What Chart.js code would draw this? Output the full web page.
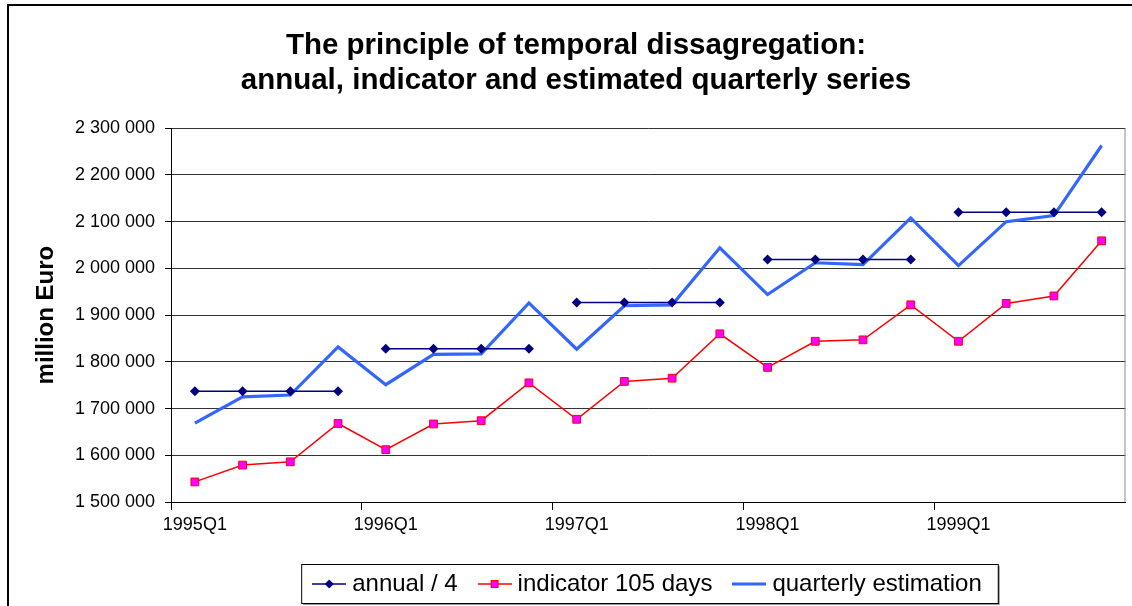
<!DOCTYPE html>
<html>
<head>
<meta charset="utf-8">
<script src="https://cdn.jsdelivr.net/npm/chart.js@4"></script>
<style>
  html, body { margin: 0; padding: 0; background: #fff; }
  #wrap { width: 1132px; height: 606px; }
</style>
</head>
<body>
<div id="wrap"><canvas id="chart" width="1132" height="606"></canvas></div>
<script>
const quarters = [
    '1995Q1', '1995Q2', '1995Q3', '1995Q4',
    '1996Q1', '1996Q2', '1996Q3', '1996Q4',
    '1997Q1', '1997Q2', '1997Q3', '1997Q4',
    '1998Q1', '1998Q2', '1998Q3', '1998Q4',
    '1999Q1', '1999Q2', '1999Q3', '1999Q4',
];

// annual totals divided by 4, repeated for each quarter of the year
const annualQuarter = [
    1737000, 1737000, 1737000, 1737000,
    1828000, 1828000, 1828000, 1828000,
    1927000, 1927000, 1927000, 1927000,
    2019000, 2019000, 2019000, 2019000,
    2120000, 2120000, 2120000, 2120000,
];

const indicator105 = [
    1543000, 1579000, 1586000, 1668000,
    1612000, 1667000, 1674000, 1755000,
    1677000, 1758000, 1765000, 1860000,
    1788000, 1844000, 1847000, 1922000,
    1844000, 1925000, 1941000, 2059000,
];

const quarterlyEstimation = [
    1669000, 1725000, 1729000, 1832000,
    1751000, 1816000, 1817000, 1926000,
    1827000, 1920000, 1922000, 2044000,
    1944000, 2012000, 2008000, 2108000,
    2006000, 2100000, 2113000, 2263000,
];

const seriesNames = ['annual / 4', 'indicator 105 days', 'quarterly estimation'];
const yTicks = { min: 1500000, max: 2300000, step: 100000 };

const FONT = "'Liberation Sans', Arial, sans-serif";
const NAVY = '#000080';
const RED = '#ff0000';
const MAGENTA = '#ff00ff';
const BLUE = '#3366ff';

function fmt(v) {
    return String(v).replace(/\B(?=(\d{3})+(?!\d))/g, ' ');
}

// legend icons: a short line with the marker in the middle
function makeIcon(color, width, marker) {
    const c = document.createElement('canvas');
    c.width = 34;
    c.height = 14;
    const g = c.getContext('2d');
    g.strokeStyle = color;
    g.lineWidth = width;
    g.beginPath();
    g.moveTo(0, 7);
    g.lineTo(34, 7);
    g.stroke();
    if (marker == 'diamond') {
        g.fillStyle = NAVY;
        g.beginPath();
        g.moveTo(17, 2.5);
        g.lineTo(21.5, 7);
        g.lineTo(17, 11.5);
        g.lineTo(12.5, 7);
        g.closePath();
        g.fill();
    } else if (marker == 'square') {
        g.fillStyle = MAGENTA;
        g.strokeStyle = RED;
        g.lineWidth = 1;
        g.fillRect(13, 3, 8, 8);
        g.strokeRect(13.5, 3.5, 7, 7);
    }
    return c;
}
const legendIcons = [
    makeIcon(NAVY, 1.5, 'diamond'),
    makeIcon(RED, 1.5, 'square'),
    makeIcon(BLUE, 3, null),
];

const LEGEND_SHIFT = 84;
const TITLE_SHIFT = 10;

const framePlugin = {
    id: 'frame',
    beforeDraw(chart) {
        const g = chart.ctx;
        g.save();
        g.fillStyle = '#fff';
        g.fillRect(0, 0, chart.width, chart.height);
        g.restore();
    },
    afterLayout(chart) {
        // center the legend under the plot area instead of the canvas
        const lg = chart.legend;
        lg.left += LEGEND_SHIFT;
        lg.right += LEGEND_SHIFT;
        lg.legendHitBoxes.forEach((b) => (b.left += LEGEND_SHIFT));
        chart.titleBlock.left += TITLE_SHIFT;
        chart.titleBlock.right += TITLE_SHIFT;
    },
    afterDraw(chart) {
        const g = chart.ctx;
        const a = chart.chartArea;
        g.save();
        // right edge of plot area
        g.strokeStyle = '#888';
        g.lineWidth = 1;
        g.beginPath();
        g.moveTo(a.right - 0.5, a.top);
        g.lineTo(a.right - 0.5, a.bottom);
        g.stroke();

        // legend box
        const hb = chart.legend.legendHitBoxes;
        const l = hb[0].left - 17;
        const r = hb[hb.length - 1].left + hb[hb.length - 1].width + 16;
        const t = 564, b = 603;
        g.strokeStyle = '#999';
        g.lineWidth = 2;
        g.beginPath();
        g.moveTo(l + 2, b + 1);
        g.lineTo(r + 1, b + 1);
        g.lineTo(r + 1, t + 2);
        g.stroke();
        g.strokeStyle = '#000';
        g.lineWidth = 1;
        g.strokeRect(l + 0.5, t + 0.5, r - l, b - t);

        // outer chart border
        g.lineWidth = 2;
        g.beginPath();
        g.moveTo(8, chart.height);
        g.lineTo(8, 5);
        g.lineTo(chart.width, 5);
        g.stroke();
        g.restore();
    },
};

const ctx = document.getElementById('chart');

new Chart(ctx, {
    type: 'line',
    data: {
        labels: quarters,
        datasets: [
            {
                label: seriesNames[0],
                data: annualQuarter,
                borderColor: NAVY,
                backgroundColor: NAVY,
                borderWidth: 1.5,
                pointStyle: 'rectRot',
                pointRadius: 5,
                pointBorderWidth: 0,
                pointBackgroundColor: NAVY,
                tension: 0,
                segment: {
                    borderColor: (c) => (c.p0DataIndex % 4 == 3 ? 'rgba(0,0,0,0)' : undefined),
                },
            },
            {
                label: seriesNames[1],
                data: indicator105,
                borderColor: RED,
                backgroundColor: MAGENTA,
                borderWidth: 1.5,
                pointStyle: 'rect',
                pointRadius: 5.5,
                pointBorderWidth: 1,
                pointBorderColor: RED,
                pointBackgroundColor: MAGENTA,
                tension: 0,
            },
            {
                label: seriesNames[2],
                data: quarterlyEstimation,
                borderColor: BLUE,
                backgroundColor: BLUE,
                borderWidth: 3.2,
                pointRadius: 0,
                tension: 0,
            },
        ],
    },
    options: {
        responsive: false,
        animation: false,
        layout: { padding: { left: 0, right: 0, top: 0, bottom: 0 } },
        plugins: {
            title: {
                display: true,
                text: [
                    'The principle of temporal dissagregation:',
                    'annual, indicator and estimated quarterly series',
                ],
                color: '#000',
                font: { family: FONT, size: 29.5, weight: 'bold', lineHeight: 1.19 },
                padding: { top: 28, bottom: 30 },
            },
            legend: {
                position: 'bottom',
                labels: {
                    color: '#000',
                    font: { family: FONT, size: 24 },
                    usePointStyle: true,
                    pointStyleWidth: 22,
                    padding: 26,
                    generateLabels(chart) {
                        const items = Chart.defaults.plugins.legend.labels.generateLabels(chart);
                        items.forEach((it, i) => (it.pointStyle = legendIcons[i]));
                        return items;
                    },
                },
            },
            tooltip: { enabled: false },
        },
        scales: {
            x: {
                offset: true,
                grid: {
                    offset: true,
                    drawOnChartArea: false,
                    drawTicks: true,
                    tickLength: 8,
                    tickColor: (c) => (c.index % 4 == 0 ? '#000' : 'rgba(0,0,0,0)'),
                },
                border: { color: '#000', width: 1 },
                ticks: {
                    autoSkip: false,
                    maxRotation: 0,
                    color: '#000',
                    padding: 4,
                    font: { family: FONT, size: 18 },
                    callback: (v, i) => (i % 4 == 0 ? quarters[i] : ''),
                },
                afterFit(scale) {
                    scale.height = 44;
                },
            },
            y: {
                min: yTicks.min,
                max: yTicks.max,
                grid: {
                    color: '#333',
                    lineWidth: 1,
                    tickLength: 6,
                    tickColor: '#000',
                },
                border: { color: '#000', width: 1 },
                ticks: {
                    stepSize: yTicks.step,
                    color: '#000',
                    padding: 10,
                    font: { family: FONT, size: 18 },
                    callback: (v) => fmt(v),
                },
                title: {
                    display: true,
                    text: 'million Euro',
                    color: '#000',
                    font: { family: FONT, size: 24, weight: 'bold' },
                    padding: { top: 32, bottom: 0 },
                },
                afterFit(scale) {
                    scale.width = 171;
                },
            },
        },
    },
    plugins: [framePlugin],
});
</script>
</body>
</html>
